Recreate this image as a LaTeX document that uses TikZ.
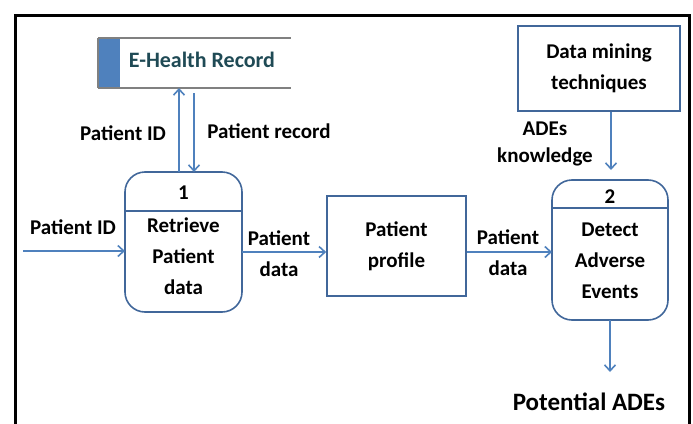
\documentclass[tikz,border=0pt]{standalone}
\usepackage{fontspec}
\setmainfont{Carlito}
\usetikzlibrary{arrows.meta}
\definecolor{arr}{HTML}{4F81BD}
\definecolor{bord}{HTML}{41679A}
\definecolor{teal}{HTML}{1F4A55}
\tikzset{
  lbl/.style={font=\bfseries\fontsize{21}{31}\selectfont, inner sep=0pt, align=center},
  flow/.style={draw=arr, line width=1.6pt, -{Straight Barb[length=6pt,width=11pt,line width=1.6pt]}},
  proc/.style={draw=bord, line width=1.6pt, rounded corners=20pt},
  ent/.style={draw=bord, line width=1.6pt},
}
\begin{document}
\begin{tikzpicture}[x=1pt,y=-1pt]
\useasboundingbox (0,0) rectangle (693,423);
% frame
\draw[line width=3pt] (15,430) -- (15,15) -- (689,15) -- (689,430);
% data store
\fill[arr] (98,38) rectangle (120,88);
\draw[gray, line width=2pt] (98,38) -- (291,38) (98,88) -- (291,88);
\draw[gray, line width=1.5pt] (98,38) -- (98,88);
\node[font=\bfseries\fontsize{22}{26}\selectfont, text=teal, inner sep=0pt] (ehr) at (202,60) {E-Health Record};
\coordinate (ehrbot) at (179,88);
\coordinate (ehrsrc) at (194,93);
% process 1
\draw[proc] (125,172) rectangle (242,312);
\draw[draw=bord, line width=1.6pt] (125,211) -- (242,211);
\node[lbl] (p1n) at (183.5,193) {1};
\node[lbl] (p1) at (183.5,256) {Retrieve\\Patient\\data};
\coordinate (p1top1) at (179,172);
\coordinate (p1top2) at (194,172);
\coordinate (p1l) at (125,251);
\coordinate (p1r) at (242,252);
% patient profile
\node[ent, minimum width=139pt, minimum height=100pt, lbl, inner sep=0pt] (pp) at (396.5,246) {Patient\\profile};
% process 2
\draw[proc] (552,180) rectangle (668,320);
\draw[draw=bord, line width=1.6pt] (552,208) -- (668,208);
\node[lbl] (p2n) at (610,197) {2};
\node[lbl] (p2) at (610,261) {Detect\\Adverse\\Events};
\coordinate (p2l) at (552,252);
\coordinate (p2top) at (611,170);
\coordinate (p2bot) at (610,320);
% data mining
\node[ent, minimum width=162pt, minimum height=85pt, lbl] (dm) at (599,68.5) {Data mining\\techniques};
% external input start
\coordinate (in) at (23,251);
\coordinate (out) at (610,372);
% flows
\draw[flow] (p1top1) -- (ehrbot);
\draw[flow] (ehrsrc) -- (p1top2);
\draw[flow] (in) -- (p1l);
\draw[flow] (p1r) -- (pp.west |- p1r);
\draw[flow] (pp.east |- p2l) -- (p2l);
\draw[flow] (dm.south -| p2top) -- (p2top);
\draw[flow] (p2bot) -- (out);
% labels
\node[lbl] at (123,133) {Patient ID};
\node[lbl] at (269,131) {Patient record};
\node[lbl] at (73,227) {Patient ID};
\node[lbl] at (279,254) {Patient\\data};
\node[lbl] at (508,253) {Patient\\data};
\node[lbl, font=\bfseries\fontsize{21}{27}\selectfont] at (545,144) {ADEs\\knowledge};
\node[font=\bfseries\fontsize{25}{30}\selectfont, inner sep=0pt] at (589,402) {Potential ADEs};
\end{tikzpicture}
\end{document}
